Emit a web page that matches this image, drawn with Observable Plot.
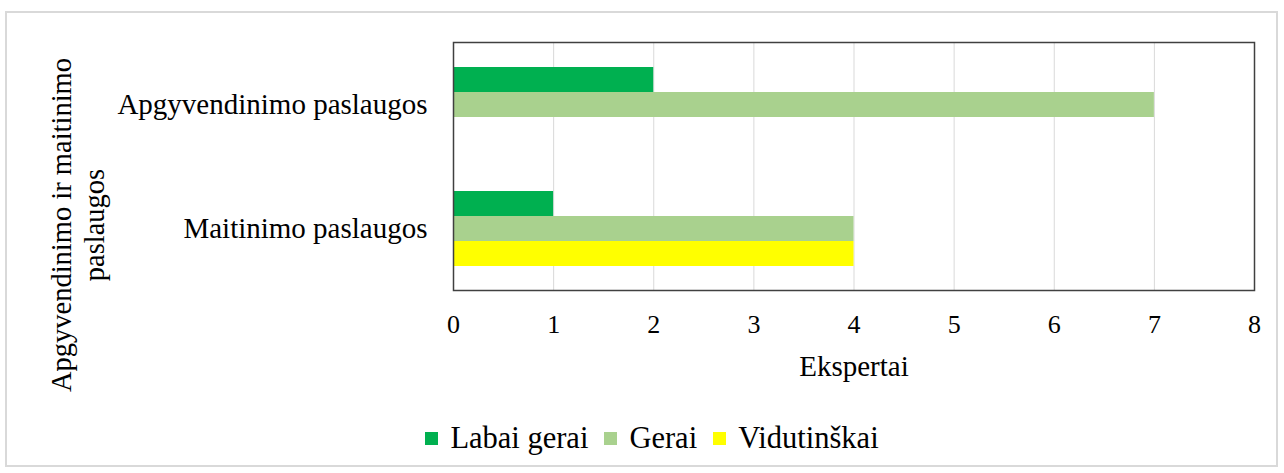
<!DOCTYPE html>
<html>
<head>
<meta charset="utf-8">
<script src="https://cdn.jsdelivr.net/npm/d3@7"></script>
<script src="https://cdn.jsdelivr.net/npm/@observablehq/plot@0.6"></script>
<style>
  html, body { margin: 0; padding: 0; background: #fff; }
  body { width: 1284px; height: 473px; position: relative; overflow: hidden; font-family: "Liberation Serif", "Times New Roman", serif; color: #000; }
  #border { position: absolute; left: 5px; top: 11px; width: 1273px; height: 456px; border: 2px solid #d9d9d9; box-sizing: border-box; }
  #chart { position: absolute; left: 0; top: 0; }
  #ytitle { position: absolute; left: 78px; top: 225px; width: 380px; text-align: center; font-size: 28.5px; line-height: 33px; transform: translate(-50%, -50%) rotate(-90deg); white-space: nowrap; }
  #legend { position: absolute; left: 0; top: 422px; width: 1284px; display: flex; justify-content: center; font-size: 30.5px; line-height: 32px; padding-left: 20px; box-sizing: border-box; }
  .item { display: flex; align-items: center; margin: 0 8px; }
  .sw { width: 13px; height: 13px; margin-right: 12px; display: inline-block; }
</style>
</head>
<body>
<div id="border"></div>
<div id="chart"></div>
<div id="ytitle"></div>
<div id="legend"></div>
<script>
const categories = ["Apgyvendinimo paslaugos", "Maitinimo paslaugos"];
const series = ["Labai gerai", "Gerai", "Vidutinškai"];
const labaiGerai = [2, 1];
const gerai = [7, 4];
const vidutiniskai = [0, 4];
const colors = ["#00B050", "#A9D18E", "#FFFF00"];
const xTicks = [0, 1, 2, 3, 4, 5, 6, 7, 8];
const xLabel = "Ekspertai";
const yTitleLines = ["Apgyvendinimo ir maitinimo", "paslaugos"];

const valuesBySeries = [labaiGerai, gerai, vidutiniskai];
const data = [];
categories.forEach((c, i) => {
  series.forEach((s, j) => {
    data.push({category: c, series: s, value: valuesBySeries[j][i]});
  });
});

const plot = Plot.plot({
  width: 1284,
  height: 400,
  marginLeft: 453,
  marginRight: 30,
  marginTop: 41,
  marginBottom: 110,
  style: {fontFamily: "'Liberation Serif', 'Times New Roman', serif", fontSize: "29px", color: "#000", background: "transparent"},
  x: {domain: [0, 8]},
  y: {domain: series, paddingInner: 0, paddingOuter: 0.96, axis: null},
  fy: {domain: categories, padding: 0},
  color: {domain: series, range: colors},
  marks: [
    Plot.gridX(xTicks, {stroke: "#d9d9d9", strokeOpacity: 1, strokeWidth: 1}),
    Plot.barX(data, {x: "value", y: "series", fy: "category", fill: "series"}),
    Plot.axisFy({anchor: "left", tickSize: 0, tickPadding: 26, label: null, fontSize: 29}),
    Plot.axisX(xTicks, {tickSize: 0, tickPadding: 24, label: null, fontSize: 26}),
    Plot.text([xLabel], {facet: "super", frameAnchor: "bottom", dy: 85, fontSize: 29, fill: "#000"}),
    Plot.frame({facet: "super", stroke: "#404040", strokeWidth: 1.5})
  ]
});
document.getElementById("chart").appendChild(plot);

document.getElementById("ytitle").innerHTML = yTitleLines.join("<br>");

const legend = document.getElementById("legend");
series.forEach((s, j) => {
  const it = document.createElement("div");
  it.className = "item";
  const sw = document.createElement("span");
  sw.className = "sw";
  sw.style.background = colors[j];
  it.appendChild(sw);
  it.appendChild(document.createTextNode(s));
  legend.appendChild(it);
});
</script>
</body>
</html>
